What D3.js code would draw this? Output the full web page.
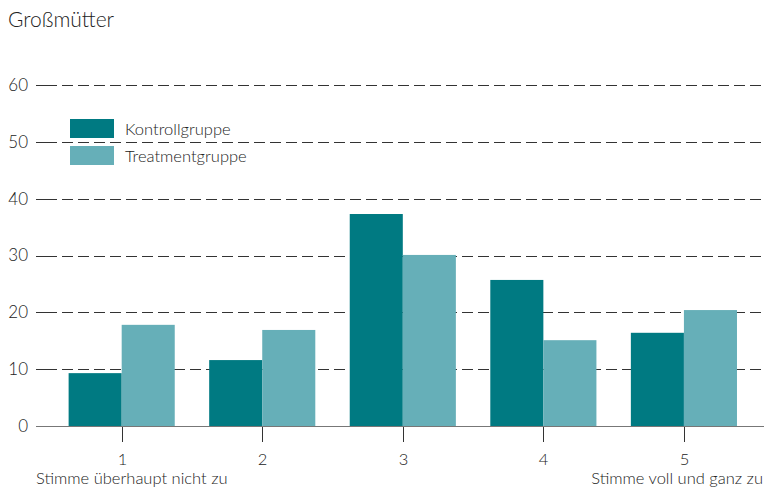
<!DOCTYPE html>
<html><head><meta charset="utf-8">
<script src="https://cdn.jsdelivr.net/npm/d3@7"></script>
<style>body{margin:0;background:#fff}svg{display:block}text{font-family:Lato,"Open Sans",sans-serif;font-weight:300;fill:#222}</style>
</head><body>
<script>
const categories = ["1","2","3","4","5"];
const seriesNames = ["Kontrollgruppe","Treatmentgruppe"];
const kontroll = [9.3, 11.6, 37.3, 25.7, 16.4];
const treatment = [17.8, 16.9, 30.1, 15.1, 20.4];
const yTicks = [0,10,20,30,40,50,60];
const colors = ["#007A82","#66AFB8"];

const W=764,H=490;
const svg=d3.select("body").append("svg").attr("width",W).attr("height",H);
const y=d3.scaleLinear().domain([0,60]).range([426,85]);
const x=d3.scaleBand().domain(categories).range([51.4,754.2]).paddingInner(0.245).paddingOuter(0.1225);
const xs=d3.scaleBand().domain(seriesNames).range([0,x.bandwidth()]);

svg.append("text").attr("x",8).attr("y",27).style("font-size","21px").text("Großmütter");

// gridlines
const g=svg.append("g");
yTicks.filter(d=>d>0).forEach(d=>{
  const yy=Math.round(y(d))+0.5;
  g.append("line").attr("x1",36).attr("x2",46).attr("y1",yy).attr("y2",yy).attr("stroke","#333");
  g.append("line").attr("x1",46).attr("x2",W).attr("y1",yy).attr("y2",yy).attr("stroke","#333").attr("stroke-dasharray","11,5");
});
// y labels
yTicks.forEach(d=>{
  svg.append("text").attr("x",28).attr("y",y(d)).attr("dy","0.35em").attr("text-anchor","end").style("font-size","17px").text(d);
});

// bars
const data=categories.map((c,i)=>({c,vals:[kontroll[i],treatment[i]]}));
const grp=svg.append("g").selectAll("g").data(data).join("g").attr("transform",d=>`translate(${x(d.c)},0)`);
grp.selectAll("rect").data(d=>d.vals.map((v,j)=>({v,s:seriesNames[j],j}))).join("rect")
  .attr("x",d=>xs(d.s)).attr("width",xs.bandwidth()).attr("y",d=>y(d.v)).attr("height",d=>y(0)-y(d.v)).attr("fill",d=>colors[d.j]);

// x axis
svg.append("line").attr("x1",36).attr("x2",W).attr("y1",426.5).attr("y2",426.5).attr("stroke","#777").attr("stroke-width",1.2);
categories.forEach(c=>{
  const cx=Math.round(x(c)+x.bandwidth()/2)+0.5;
  svg.append("line").attr("x1",cx).attr("x2",cx).attr("y1",427).attr("y2",442).attr("stroke","#333");
  svg.append("text").attr("x",cx).attr("y",465).attr("text-anchor","middle").style("font-size","16.5px").text(c);
});
svg.append("text").attr("x",36).attr("y",484).style("font-size","16.5px").text("Stimme überhaupt nicht zu");
svg.append("text").attr("x",763).attr("y",484).attr("text-anchor","end").style("font-size","16.5px").text("Stimme voll und ganz zu");

// legend
seriesNames.forEach((s,i)=>{
  svg.append("rect").attr("x",70).attr("y",119+i*27).attr("width",44).attr("height",19).attr("fill",colors[i]);
  svg.append("text").attr("x",125).attr("y",135+i*27).style("font-size","16.5px").text(s);
});
</script>
</body></html>
